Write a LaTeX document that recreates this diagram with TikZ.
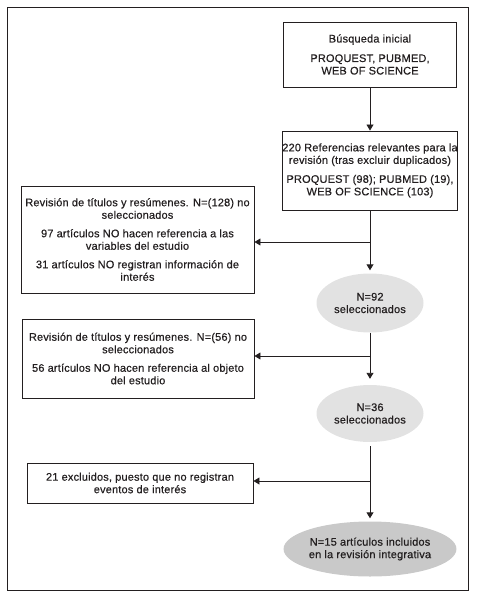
\documentclass[tikz,border=0pt]{standalone}
\usepackage{fontspec}
\setmainfont{Liberation Sans}[FakeBold=0.5,LetterSpace=1.5]
\usetikzlibrary{arrows.meta,shapes.geometric}
\definecolor{txt}{HTML}{231F20}
\definecolor{ellA}{HTML}{E2E2E2}
\definecolor{ellB}{HTML}{C9C9C9}
\newcommand{\fs}{\fontsize{11pt}{12.5pt}\selectfont}
\begin{document}
\begin{tikzpicture}[x=1pt,y=-1pt,
  box/.style={draw=txt, line width=0.9pt, align=center, inner sep=0pt, font=\fs, text=txt},
  oval/.style={ellipse, align=center, inner sep=0pt, font=\fs, text=txt},
  conn/.style={draw=txt, line width=0.9pt},
  arr/.style={conn, -{Triangle[width=7pt,length=6pt]}}]
\useasboundingbox (0,0) rectangle (477,596);
\draw[line width=1pt, txt] (7.5,7.5) rectangle (468.5,590.5);

\node[box, minimum width=173pt, minimum height=65pt] (b1) at (370,54.5)
  {Búsqueda inicial\\[7pt]PROQUEST, PUBMED,\\WEB OF SCIENCE};
\node[box, minimum width=173pt, minimum height=79pt] (b2) at (370,170.5)
  {220 Referencias relevantes para la\\revisión (tras excluir duplicados)\\[6.5pt]PROQUEST (98); PUBMED (19),\\WEB OF SCIENCE (103)};
\node[box, minimum width=233pt, minimum height=107pt] (l1) at (137.5,239.5)
  {Revisión de títulos y resúmenes. N=(128) no\\seleccionados\\[6pt]97 artículos NO hacen referencia a las\\variables del estudio\\[6pt]31 artículos NO registran información de\\interés};
\node[oval, fill=ellA, minimum width=107pt, minimum height=59pt] (e1) at (370,303)
  {N=92\\seleccionados};
\node[box, minimum width=232pt, minimum height=79pt] (l2) at (138,358.5)
  {Revisión de títulos y resúmenes. N=(56) no\\seleccionados\\[6pt]56 artículos NO hacen referencia al objeto\\del estudio};
\node[oval, fill=ellA, minimum width=107pt, minimum height=57pt] (e2) at (370,413.5)
  {N=36\\seleccionados};
\node[box, minimum width=226pt, minimum height=40pt] (l3) at (140,483)
  {21 excluidos, puesto que no registran\\eventos de interés};
\node[oval, fill=ellB, minimum width=167pt, minimum height=55pt] (e3) at (370,549)
  {N=15 artículos incluidos\\en la revisión integrativa};

\coordinate (j1) at (370,242);
\coordinate (j2) at (370,356);
\coordinate (j3) at (370,481);

\draw[arr] (b1.south) -- (b2.north);
\draw[conn] (b2.south) -- (j1);
\draw[arr, shorten >=3pt] (j1) -- (e1.north);
\draw[arr] (j1) -- (j1 -| l1.east);
\draw[conn] (e1.south) -- (j2);
\draw[arr, shorten >=6pt] (j2) -- (e2.north);
\draw[arr] (j2) -- (j2 -| l2.east);
\draw[conn, shorten <=4pt] (e2.south) -- (j3);
\draw[arr, shorten >=3pt] (j3) -- (e3.north);
\draw[arr] (j3) -- (j3 -| l3.east);
\end{tikzpicture}
\end{document}
